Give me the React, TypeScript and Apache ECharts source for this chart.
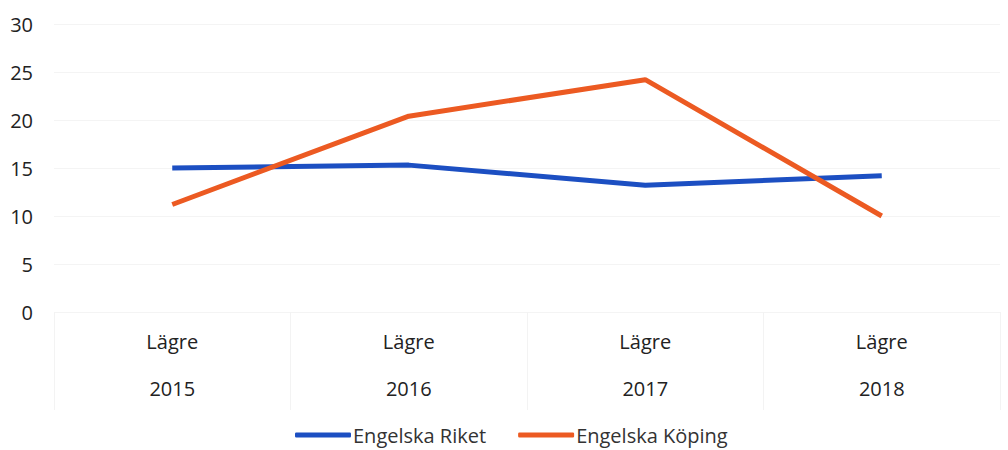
import React, { useEffect, useRef } from "react";
import * as echarts from "echarts";

const levels = ["Lägre", "Lägre", "Lägre", "Lägre"];
const years = ["2015", "2016", "2017", "2018"];
const riket = [15.0, 15.3, 13.2, 14.2];
const koping = [11.2, 20.4, 24.2, 10.0];
const yTicks = { min: 0, max: 30, interval: 5 };

export default function App() {
  const ref = useRef<HTMLDivElement>(null);
  useEffect(() => {
    const chart = echarts.init(ref.current!, null, { renderer: "svg" });
    const font = "'Open Sans', sans-serif";
    chart.setOption({
      animation: false,
      textStyle: { fontFamily: font },
      grid: { left: 54, right: 8, top: 24, bottom: 138 },
      legend: {
        bottom: 0,
        left: 290,
        itemWidth: 56,
        itemHeight: 5,
        itemGap: 32,
        icon: "roundRect",
        textStyle: { fontSize: 20, color: "#333", fontFamily: font, padding: [0, 0, 0, -3] },
        data: ["Engelska Riket", "Engelska Köping"],
      },
      xAxis: {
        type: "category",
        data: years.map((y, i) => levels[i] + "\n" + y),
        boundaryGap: true,
        axisLine: { show: false },
        axisTick: { show: true, length: 98, lineStyle: { color: "#f3f3f3", width: 1 } },
        axisLabel: { fontSize: 20, color: "#222", lineHeight: 47, margin: 6, fontFamily: font },
        splitLine: { show: false },
      },
      yAxis: {
        type: "value",
        min: yTicks.min,
        max: yTicks.max,
        interval: yTicks.interval,
        axisLine: { show: false },
        axisTick: { show: false },
        axisLabel: { fontSize: 20, color: "#222", margin: 21, fontFamily: font },
        splitLine: { lineStyle: { color: "#f4f4f4", width: 1 } },
      },
      series: [
        {
          name: "Engelska Riket",
          type: "line",
          data: riket,
          symbol: "none",
          lineStyle: { width: 5, color: "#1c4fc2" },
          itemStyle: { color: "#1c4fc2" },
        },
        {
          name: "Engelska Köping",
          type: "line",
          data: koping,
          symbol: "none",
          lineStyle: { width: 5, color: "#ec5a22" },
          itemStyle: { color: "#ec5a22" },
        },
      ],
    });
    return () => chart.dispose();
  }, []);
  return <div ref={ref} style={{ width: 1008, height: 450, position: "absolute", left: 0, top: 0 }} />;
}
